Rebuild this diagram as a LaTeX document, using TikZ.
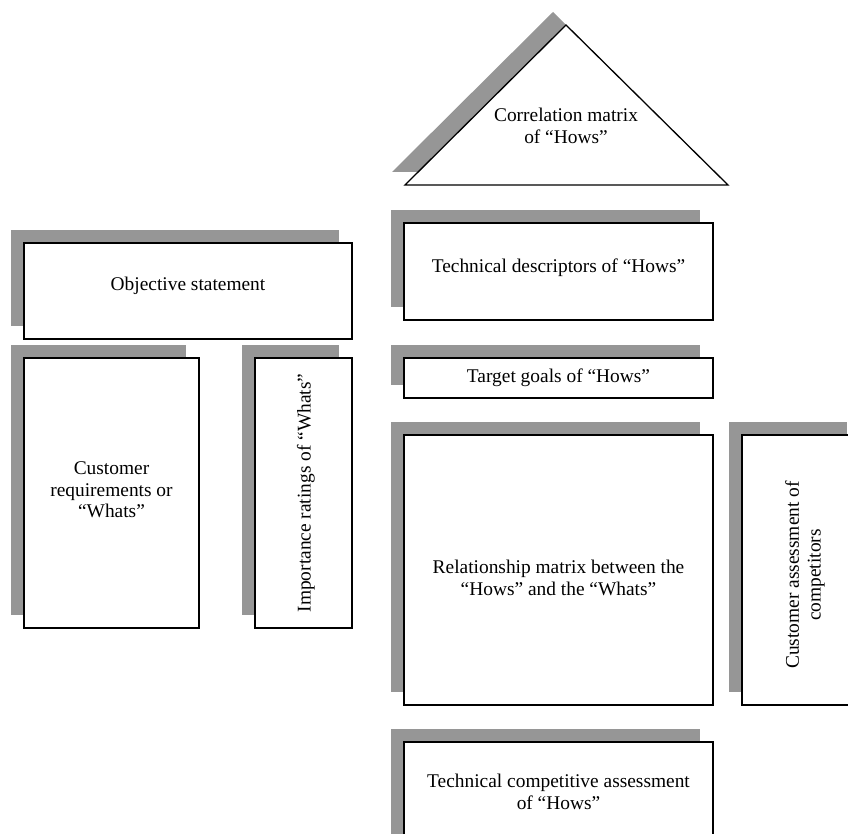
\documentclass[tikz,border=0pt]{standalone}
\usepackage{fontspec}
\setmainfont{Liberation Serif}
\usetikzlibrary{shadows}
\definecolor{shade}{RGB}{150,150,150}
\tikzset{
  shad/.style={drop shadow={shadow xshift=-13pt, shadow yshift=13pt, fill=shade, opacity=1}},
  qbox/.style={shad, draw=black, line width=1.3pt, fill=white, inner sep=0pt, align=center,
    font=\fontsize{19.4}{21.7}\selectfont},
  qtext/.style={align=center, inner sep=0pt, font=\fontsize{19.4}{21.7}\selectfont},
}
\begin{document}
\begin{tikzpicture}[x=1pt,y=-1pt]
\useasboundingbox (0,0) rectangle (848,834);
\clip (0,0) rectangle (848,834);
% correlation triangle
\draw[shad, draw=black, line width=1.3pt, fill=white, line join=miter] (566,25) -- (728,185) -- (405,185) -- cycle;
\node[qtext] (corr) at (566,126) {Correlation matrix\\of ``Hows''};
% left side
\node[qbox, minimum width=328pt, minimum height=96pt] (obj) at (188,291) {};
\node[qtext] (objt) at (188,286) {Objective statement};
\node[qbox, minimum width=175pt, minimum height=270pt] (cust) at (111.5,493) {};
\node[qtext] (custt) at (111.5,490) {Customer\\requirements or\\``Whats''};
\node[qbox, minimum width=97pt, minimum height=270pt] (imp) at (303.5,493) {};
\node[qtext, rotate=90] (impt) at (306,493) {Importance ratings of ``Whats''};
% right side
\node[qbox, minimum width=309pt, minimum height=97pt] (tech) at (558.5,271.5) {};
\node[qtext] (techt) at (558.5,268) {Technical descriptors of ``Hows''};
\node[qbox, minimum width=309pt, minimum height=40pt] (target) at (558.5,378) {};
\node[qtext] (targett) at (558.5,378) {Target goals of ``Hows''};
\node[qbox, minimum width=309pt, minimum height=270pt] (rel) at (558.5,570) {};
\node[qtext] (relt) at (558.5,578) {Relationship matrix between the\\``Hows'' and the ``Whats''};
\node[qbox, minimum width=118pt, minimum height=270pt] (cass) at (801,570) {};
\node[qtext, rotate=90] (casst) at (805,575) {Customer assessment of\\competitors};
\node[qbox, minimum width=309pt, minimum height=108pt] (tca) at (558.5,796) {};
\node[qtext] (tcat) at (558.5,792) {Technical competitive assessment\\of ``Hows''};
\end{tikzpicture}
\end{document}
